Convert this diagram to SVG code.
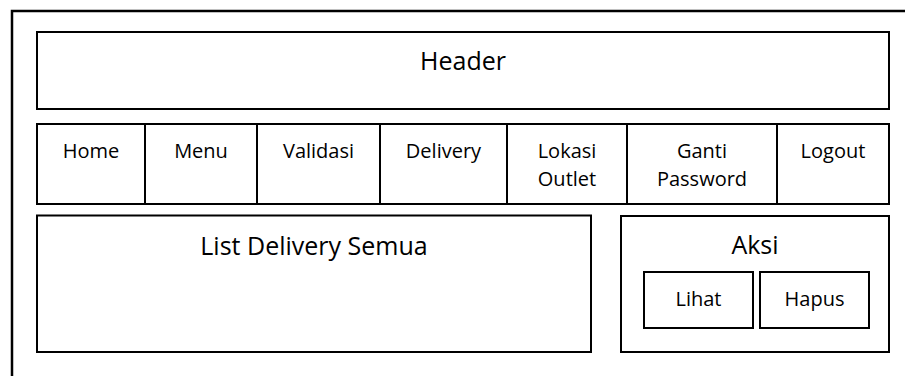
<svg xmlns="http://www.w3.org/2000/svg" width="905" height="376" viewBox="0 0 905 376">
<style>
.box{fill:#fff;stroke:#000;stroke-width:2}
.div{stroke:#000;stroke-width:2}
.t{font-family:"Open Sans","Liberation Sans",sans-serif;fill:#000;text-anchor:middle}
.l{font-size:25px}
.s{font-size:20px}
</style>
<rect width="905" height="376" fill="#fff"/>
<path id="frame" d="M12,376 V11 H905" fill="none" stroke="#000" stroke-width="2.5"/>
<g id="header">
<rect class="box" x="37" y="32" width="852" height="77"/>
<text class="t l" x="463" y="70">Header</text>
</g>
<g id="menubar">
<rect class="box" x="37" y="124" width="852" height="80"/>
</g>
<g id="connectors">
<line class="div" x1="145" y1="124" x2="145" y2="204"/>
<line class="div" x1="257" y1="124" x2="257" y2="204"/>
<line class="div" x1="380" y1="124" x2="380" y2="204"/>
<line class="div" x1="507" y1="124" x2="507" y2="204"/>
<line class="div" x1="627" y1="124" x2="627" y2="204"/>
<line class="div" x1="777" y1="124" x2="777" y2="204"/>
</g>
<g id="home"><text class="t s" x="91" y="158">Home</text></g>
<g id="menu"><text class="t s" x="201" y="158">Menu</text></g>
<g id="validasi"><text class="t s" x="318.5" y="158">Validasi</text></g>
<g id="delivery"><text class="t s" x="443.5" y="158">Delivery</text></g>
<g id="lokasi"><text class="t s" x="567" y="158">Lokasi</text><text class="t s" x="567" y="186">Outlet</text></g>
<g id="ganti"><text class="t s" x="702" y="158">Ganti</text><text class="t s" x="702" y="186">Password</text></g>
<g id="logout"><text class="t s" x="833" y="158">Logout</text></g>
<g id="list">
<rect class="box" x="37" y="215.5" width="554" height="136.5"/>
<text class="t l" x="314" y="255">List Delivery Semua</text>
</g>
<g id="aksi">
<rect class="box" x="621" y="216" width="268" height="136"/>
<text class="t l" x="755" y="254">Aksi</text>
</g>
<g id="lihat">
<rect class="box" x="644" y="272" width="109" height="56"/>
<text class="t s" x="698.5" y="306">Lihat</text>
</g>
<g id="hapus">
<rect class="box" x="760" y="272" width="109" height="56"/>
<text class="t s" x="814.5" y="306">Hapus</text>
</g>
</svg>
